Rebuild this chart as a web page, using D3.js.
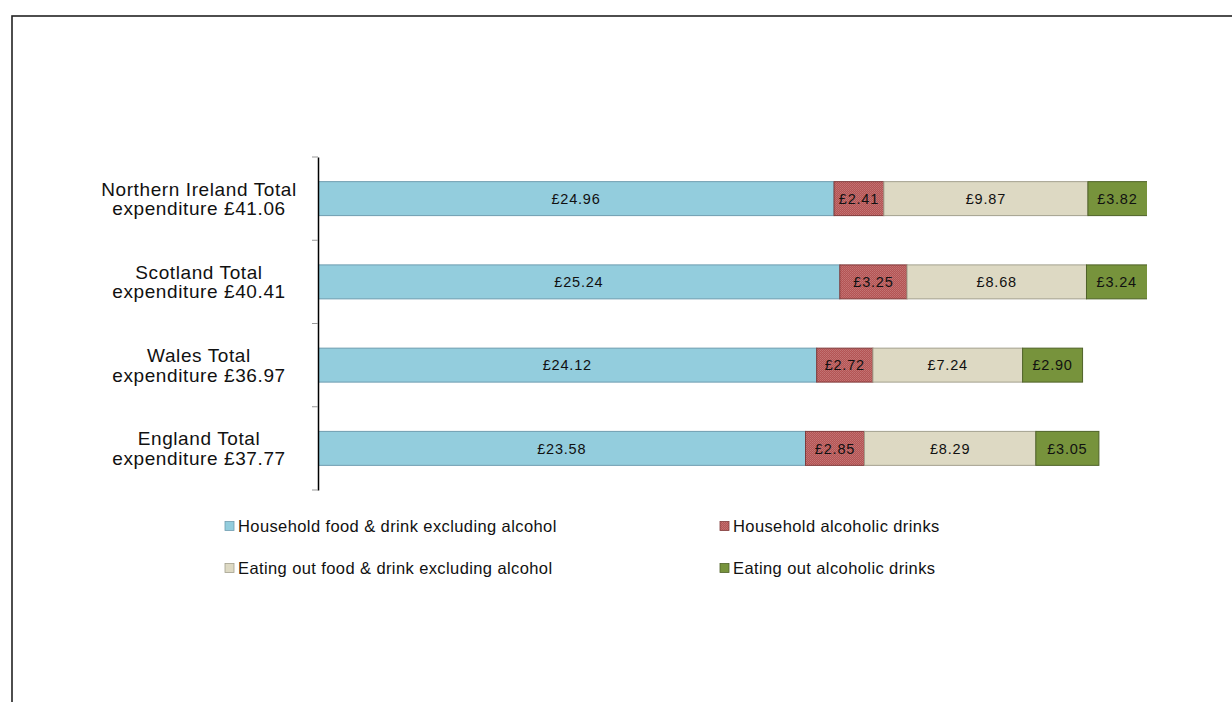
<!DOCTYPE html>
<html>
<head>
<meta charset="utf-8">
<script src="https://cdn.jsdelivr.net/npm/d3@7"></script>
<style>
  html, body { margin: 0; padding: 0; background: #fff; }
  svg { display: block; font-family: "Liberation Sans", Arial, sans-serif; }
</style>
</head>
<body>
<svg id="chart" width="1232" height="702"></svg>
<script>
// Weekly spend per person by UK nation (£)
const nations = ["Northern Ireland", "Scotland", "Wales", "England"];
const totals = [41.06, 40.41, 36.97, 37.77];

const seriesNames = [
  "Household food & drink excluding alcohol",
  "Household alcoholic drinks",
  "Eating out food & drink excluding alcohol",
  "Eating out alcoholic drinks"
];
const householdFood = [24.96, 25.24, 24.12, 23.58];
const householdAlcohol = [2.41, 3.25, 2.72, 2.85];
const eatingOutFood = [9.87, 8.68, 7.24, 8.29];
const eatingOutAlcohol = [3.82, 3.24, 2.90, 3.05];

const xDomain = [0, 40];

const fills = ["#93cddd", "url(#hatchRed)", "#ddd9c3", "#77933c"];
const strokes = ["#6f9db0", "#7f3a3a", "#a3a08e", "#4f6228"];
const swatchFills = ["#93cddd", "#b65a5a", "#ddd9c3", "#77933c"];

const rows = nations.map((n, i) => ({
  nation: n,
  s0: householdFood[i],
  s1: householdAlcohol[i],
  s2: eatingOutFood[i],
  s3: eatingOutAlcohol[i]
}));
const keys = ["s0", "s1", "s2", "s3"];

const svg = d3.select("#chart");

// textured fill for the household alcohol segments
const defs = svg.append("defs");
const pat = defs.append("pattern")
  .attr("id", "hatchRed")
  .attr("patternUnits", "userSpaceOnUse")
  .attr("width", 2).attr("height", 2);
pat.append("rect").attr("width", 2).attr("height", 2).attr("fill", "#b35454");
pat.append("rect").attr("width", 1).attr("height", 1).attr("fill", "#c47474");
pat.append("rect").attr("x", 1).attr("y", 1).attr("width", 1).attr("height", 1).attr("fill", "#c06b6b");

// outer frame
svg.append("rect")
  .attr("x", 12).attr("y", 16)
  .attr("width", 1260).attr("height", 720)
  .attr("fill", "none")
  .attr("stroke", "#222")
  .attr("stroke-width", 1.6);

const x = d3.scaleLinear().domain(xDomain).range([318, 1145]);
const y = d3.scaleBand().domain(nations).range([157, 490])
  .paddingInner(0.592).paddingOuter(0.296);

defs.append("clipPath").attr("id", "plotClip")
  .append("rect")
  .attr("x", x(0)).attr("y", 150)
  .attr("width", x(xDomain[1]) - x(0) + 2).attr("height", 350);

const stack = d3.stack().keys(keys)(rows);

const plot = svg.append("g").attr("clip-path", "url(#plotClip)");

stack.forEach((layer, li) => {
  const g = plot.append("g");
  g.selectAll("rect").data(layer).join("rect")
    .attr("x", d => x(d[0]))
    .attr("y", d => y(d.data.nation))
    .attr("width", d => x(d[1]) - x(d[0]))
    .attr("height", y.bandwidth())
    .attr("fill", fills[li])
    .attr("stroke", strokes[li])
    .attr("stroke-width", 1);
});

// value labels, centred within the visible part of each segment
const xMaxPx = x(xDomain[1]) + 2;
stack.forEach((layer) => {
  svg.append("g").selectAll("text").data(layer).join("text")
    .attr("x", d => (x(d[0]) + Math.min(x(d[1]), xMaxPx)) / 2)
    .attr("y", d => y(d.data.nation) + y.bandwidth() / 2)
    .attr("dy", "0.36em")
    .attr("text-anchor", "middle")
    .attr("font-size", 14.5)
    .attr("letter-spacing", 0.8)
    .attr("fill", "#111")
    .text(d => "£" + (d[1] - d[0]).toFixed(2));
});

// category axis
const yAxis = d3.axisLeft(y).tickSize(0).tickFormat("");
const axisG = svg.append("g").attr("transform", `translate(${x(0)},0)`).call(yAxis);
axisG.select(".domain").attr("stroke", "#000").attr("stroke-width", 1.5);

// boundary ticks between categories
const boundaries = d3.range(nations.length + 1).map(i => 157 + i * y.step());
svg.append("g").selectAll("line").data(boundaries).join("line")
  .attr("x1", x(0) - 6).attr("x2", x(0))
  .attr("y1", d => d).attr("y2", d => d)
  .attr("stroke", "#999").attr("stroke-width", 1);

// two-line category labels
const labelG = svg.append("g");
nations.forEach((n, i) => {
  const cy = y(n) + y.bandwidth() / 2;
  const t = labelG.append("text")
    .attr("text-anchor", "middle")
    .attr("font-size", 19)
    .attr("letter-spacing", 0.6)
    .attr("fill", "#111");
  t.append("tspan").attr("x", 199).attr("y", cy - 3).text(`${n} Total`);
  t.append("tspan").attr("x", 199).attr("y", cy + 16.5).text(`expenditure £${totals[i].toFixed(2)}`);
});

// legend
const legendPos = [[225, 526], [720, 526], [225, 568], [720, 568]];
const legend = svg.append("g");
seriesNames.forEach((name, i) => {
  const [lx, ly] = legendPos[i];
  legend.append("rect")
    .attr("x", lx).attr("y", ly - 4.5)
    .attr("width", 9).attr("height", 9)
    .attr("fill", i === 1 ? "url(#hatchRed)" : swatchFills[i])
    .attr("stroke", strokes[i]).attr("stroke-width", 0.8);
  legend.append("text")
    .attr("x", lx + 13).attr("y", ly)
    .attr("dy", "0.36em")
    .attr("font-size", 16.5)
    .attr("letter-spacing", 0.4)
    .attr("fill", "#111")
    .text(name);
});
</script>
</body>
</html>
